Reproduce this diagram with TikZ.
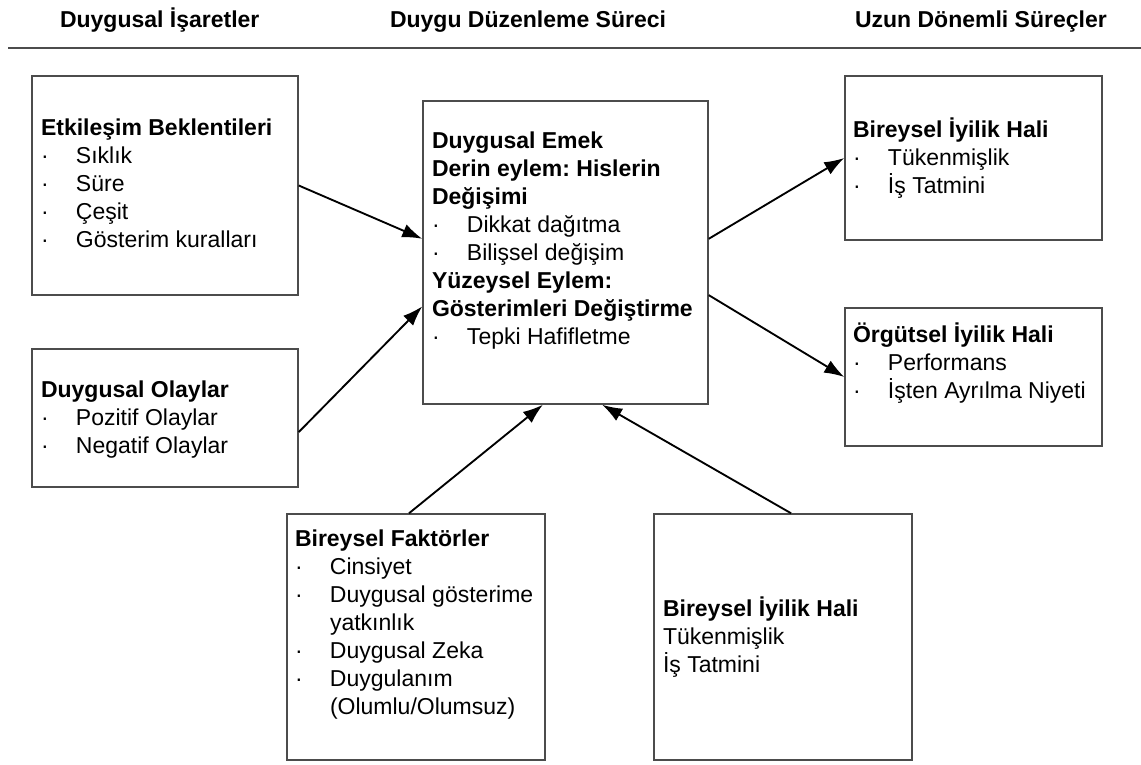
\documentclass[tikz,border=0pt]{standalone}
\usepackage{fontspec}
\setmainfont{Liberation Sans}
\usetikzlibrary{arrows.meta,calc}
\frenchspacing

% body text: 17.25pt type on a 21pt leading
\newcommand\bodyfont{\fontsize{17.25pt}{21pt}\selectfont}
% a list with a bold title and dotted items
\newcommand\boxlist[2]{\begin{tabular}[t]{@{}p{26.25pt}@{}l@{}}\multicolumn{2}{@{}l@{}}{\bfseries #1}\\#2\end{tabular}}

\tikzset{
  box/.style={draw=black!70, line width=1.1pt, inner sep=0pt, fill=none},
  txt/.style={anchor=base west, inner sep=0pt, outer sep=0pt, font=\bodyfont},
  headtxt/.style={anchor=base west, inner sep=0pt, outer sep=0pt, font=\bodyfont\bfseries},
  link/.style={line width=1.4pt, draw=black, -{Latex[length=15pt,width=10.5pt]}},
  rule/.style={line width=1.8pt, draw=black!70},
}

\begin{document}
\begin{tikzpicture}[x=0.75pt, y=-0.75pt]
\useasboundingbox (0,0) rectangle (1141,764);

% column headings and the rule beneath them
\node[headtxt] (h1) at (60,27) {Duygusal İşaretler};
\node[headtxt] (h2) at (390,27) {Duygu Düzenleme Süreci};
\node[headtxt] (h3) at (855,27) {Uzun Dönemli Süreçler};
\draw[rule] (8,48) -- (1141,48);

% frames
\node[box, minimum width=199.5pt, minimum height=164.25pt] (b1) at (165,185.5) {};
\node[box, minimum width=199.5pt, minimum height=103.5pt]  (b2) at (165,418) {};
\node[box, minimum width=213.75pt, minimum height=227.25pt] (bc) at (565.5,252.5) {};
\node[box, minimum width=192.75pt, minimum height=123pt]   (brt) at (973.5,158) {};
\node[box, minimum width=192.75pt, minimum height=103.5pt] (brb) at (973.5,377) {};
\node[box, minimum width=193.5pt, minimum height=184.5pt]  (bf) at (416,637) {};
\node[box, minimum width=193.5pt, minimum height=184.5pt]  (bb) at (783,637) {};

% contents
\node[txt] (t1) at (41,135) {\boxlist{Etkileşim Beklentileri}{%
  · & Sıklık\\ · & Süre\\ · & Çeşit\\ · & Gösterim kuralları}};
\node[txt] (t2) at (41,397) {\boxlist{Duygusal Olaylar}{%
  · & Pozitif Olaylar\\ · & Negatif Olaylar}};
\node[txt] (tc) at (432,148) {\boxlist{Duygusal Emek}{%
  \multicolumn{2}{@{}l@{}}{\bfseries Derin eylem: Hislerin}\\
  \multicolumn{2}{@{}l@{}}{\bfseries Değişimi}\\
  · & Dikkat dağıtma\\ · & Bilişsel değişim\\
  \multicolumn{2}{@{}l@{}}{\bfseries Yüzeysel Eylem:}\\
  \multicolumn{2}{@{}l@{}}{\bfseries Gösterimleri Değiştirme}\\
  · & Tepki Hafifletme}};
\node[txt] (trt) at (853,137) {\boxlist{Bireysel İyilik Hali}{%
  · & Tükenmişlik\\ · & İş Tatmini}};
\node[txt] (trb) at (853,342) {\boxlist{Örgütsel İyilik Hali}{%
  · & Performans\\ · & İşten Ayrılma Niyeti}};
\node[txt] (tbf) at (295,546) {\boxlist{Bireysel Faktörler}{%
  · & Cinsiyet\\ · & Duygusal gösterime\\ & yatkınlık\\
  · & Duygusal Zeka\\ · & Duygulanım\\ & (Olumlu/Olumsuz)}};
\node[txt] (tbb) at (663,616) {\begin{tabular}[t]{@{}l@{}}\bfseries Bireysel İyilik Hali\\
  Tükenmişlik\\ İş Tatmini\end{tabular}};

% connectors
\draw[link] (b1.east) -- ($(bc.north west)!0.455!(bc.south west)$);
\draw[link] ($(b2.north east)!0.601!(b2.south east)$) -- ($(bc.north west)!0.677!(bc.south west)$);
\draw[link] ($(bc.north east)!0.455!(bc.south east)$) -- (brt.west);
\draw[link] ($(bc.north east)!0.640!(bc.south east)$) -- (brb.west);
\draw[link] ($(bf.north west)!0.473!(bf.north east)$) -- ($(bc.south west)!0.421!(bc.south east)$);
\draw[link] ($(bb.north west)!0.531!(bb.north east)$) -- ($(bc.south west)!0.628!(bc.south east)$);
\end{tikzpicture}
\end{document}
